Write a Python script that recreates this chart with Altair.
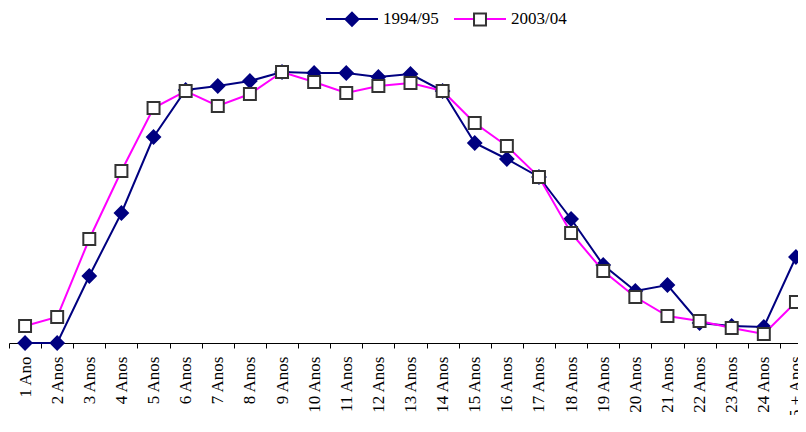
import altair as alt
import pandas as pd

categories = ["1 Ano", "2 Anos", "3 Anos", "4 Anos", "5 Anos", "6 Anos", "7 Anos",
              "8 Anos", "9 Anos", "10 Anos", "11 Anos", "12 Anos", "13 Anos",
              "14 Anos", "15 Anos", "16 Anos", "17 Anos", "18 Anos", "19 Anos",
              "20 Anos", "21 Anos", "22 Anos", "23 Anos", "24 Anos", "25 + Anos"]
series_names = ["1994/95", "2003/04"]
values_9495 = [0, 0, 67, 130, 206, 253, 257, 262, 271, 270, 270, 266, 269,
               252, 200, 184, 166, 124, 78, 52, 58, 20, 17, 16, 86]
values_0304 = [17, 26, 104, 172, 235, 252, 237, 249, 271, 261, 250, 257, 260,
               252, 220, 197, 166, 110, 72, 46, 27, 22, 15, 9, 41]

line_colors = ["#000080", "#FF00FF"]
marker_fills = ["#000080", "#FFFFFF"]
marker_strokes = ["#000080", "#333333"]
diamond = "M0,-0.25L0.25,0L0,0.25L-0.25,0Z M-1,0 M1,0"
square = "M-0.23,-0.23L0.23,-0.23L0.23,0.23L-0.23,0.23Z M-1,0 M1,0"

n = len(categories)
df = pd.DataFrame({
    "cat": categories * 2,
    "idx": list(range(1, n + 1)) * 2,
    "series": [series_names[0]] * n + [series_names[1]] * n,
    "value": values_9495 + values_0304,
})
# separate key for the marker legend (different domain so the legends stay apart)
df["mk"] = "m:" + df["series"]
marker_keys = ["m:" + s for s in series_names]

FONT = "Liberation Serif"
PAD_L = 1
PLOT_W = 789          # svg = 1 + 789 = 790 wide -> fits the 806px page with its margins
STEP = 32.12          # one category slot; the last slot runs past the right edge (cropped)

common_legend = dict(orient="none", legendX=316, legendY=-76, direction="horizontal",
                     title=None, labelFont=FONT, labelFontSize=17, labelColor="black",
                     symbolSize=2704, symbolStrokeWidth=2, columnPadding=11,
                     labelOffset=4, padding=0, rowPadding=0, symbolOpacity=1)
legend_lines = alt.Legend(symbolType="stroke", zindex=0, **common_legend)
legend_marks = alt.Legend(labelOpacity=0, zindex=1,
                          labelExpr="slice(datum.label, 2)", **common_legend)

label_expr = "[" + ",".join("'" + c + "'" for c in categories) + "][datum.value - 1]"

x_enc = alt.X("idx:Q",
              scale=alt.Scale(domain=[0.5, 0.5 + PLOT_W / STEP], nice=False, zero=False),
              axis=alt.Axis(title=None, values=list(range(1, n + 1)), labelExpr=label_expr,
                            labelAngle=270, labelFont=FONT, labelFontSize=17,
                            labelColor="black", labelPadding=8, tickSize=5,
                            tickOffset=-STEP / 2, labelOffset=STEP / 2,
                            tickColor="black", domainColor="black", domainWidth=1,
                            tickWidth=1, grid=False, labelOverlap=False, labelBound=False,
                            labelFlush=False))
y_enc = alt.Y("value:Q", scale=alt.Scale(domain=[0, 275], nice=False), axis=None)

color_enc = alt.Color("series:N", scale=alt.Scale(domain=series_names, range=line_colors),
                      legend=legend_lines)
fill_enc = alt.Fill("mk:N", scale=alt.Scale(domain=marker_keys, range=marker_fills),
                    legend=legend_marks)
stroke_enc = alt.Stroke("mk:N", scale=alt.Scale(domain=marker_keys, range=marker_strokes),
                        legend=legend_marks)
shape_enc = alt.Shape("mk:N", scale=alt.Scale(domain=marker_keys, range=[diamond, square]),
                      legend=legend_marks)

base = alt.Chart(df).encode(x=x_enc, y=y_enc)


def layers_for(name):
    b = base.transform_filter(alt.datum.series == name)
    ln = b.mark_line(strokeWidth=2).encode(color=color_enc)
    pt = b.mark_point(filled=True, opacity=1, size=2704, strokeWidth=2).encode(
        fill=fill_enc, stroke=stroke_enc, shape=shape_enc)
    return [ln, pt]


chart = alt.layer(*layers_for(series_names[0]), *layers_for(series_names[1])).properties(
    width=PLOT_W, height=275,
    padding={"left": PAD_L, "top": 60, "right": 0, "bottom": 72},
    autosize=alt.AutoSizeParams(type="none"),
    background="white",
).configure_view(stroke="transparent")

chart.save("out.html", embed_options={"renderer": "svg", "actions": False})
